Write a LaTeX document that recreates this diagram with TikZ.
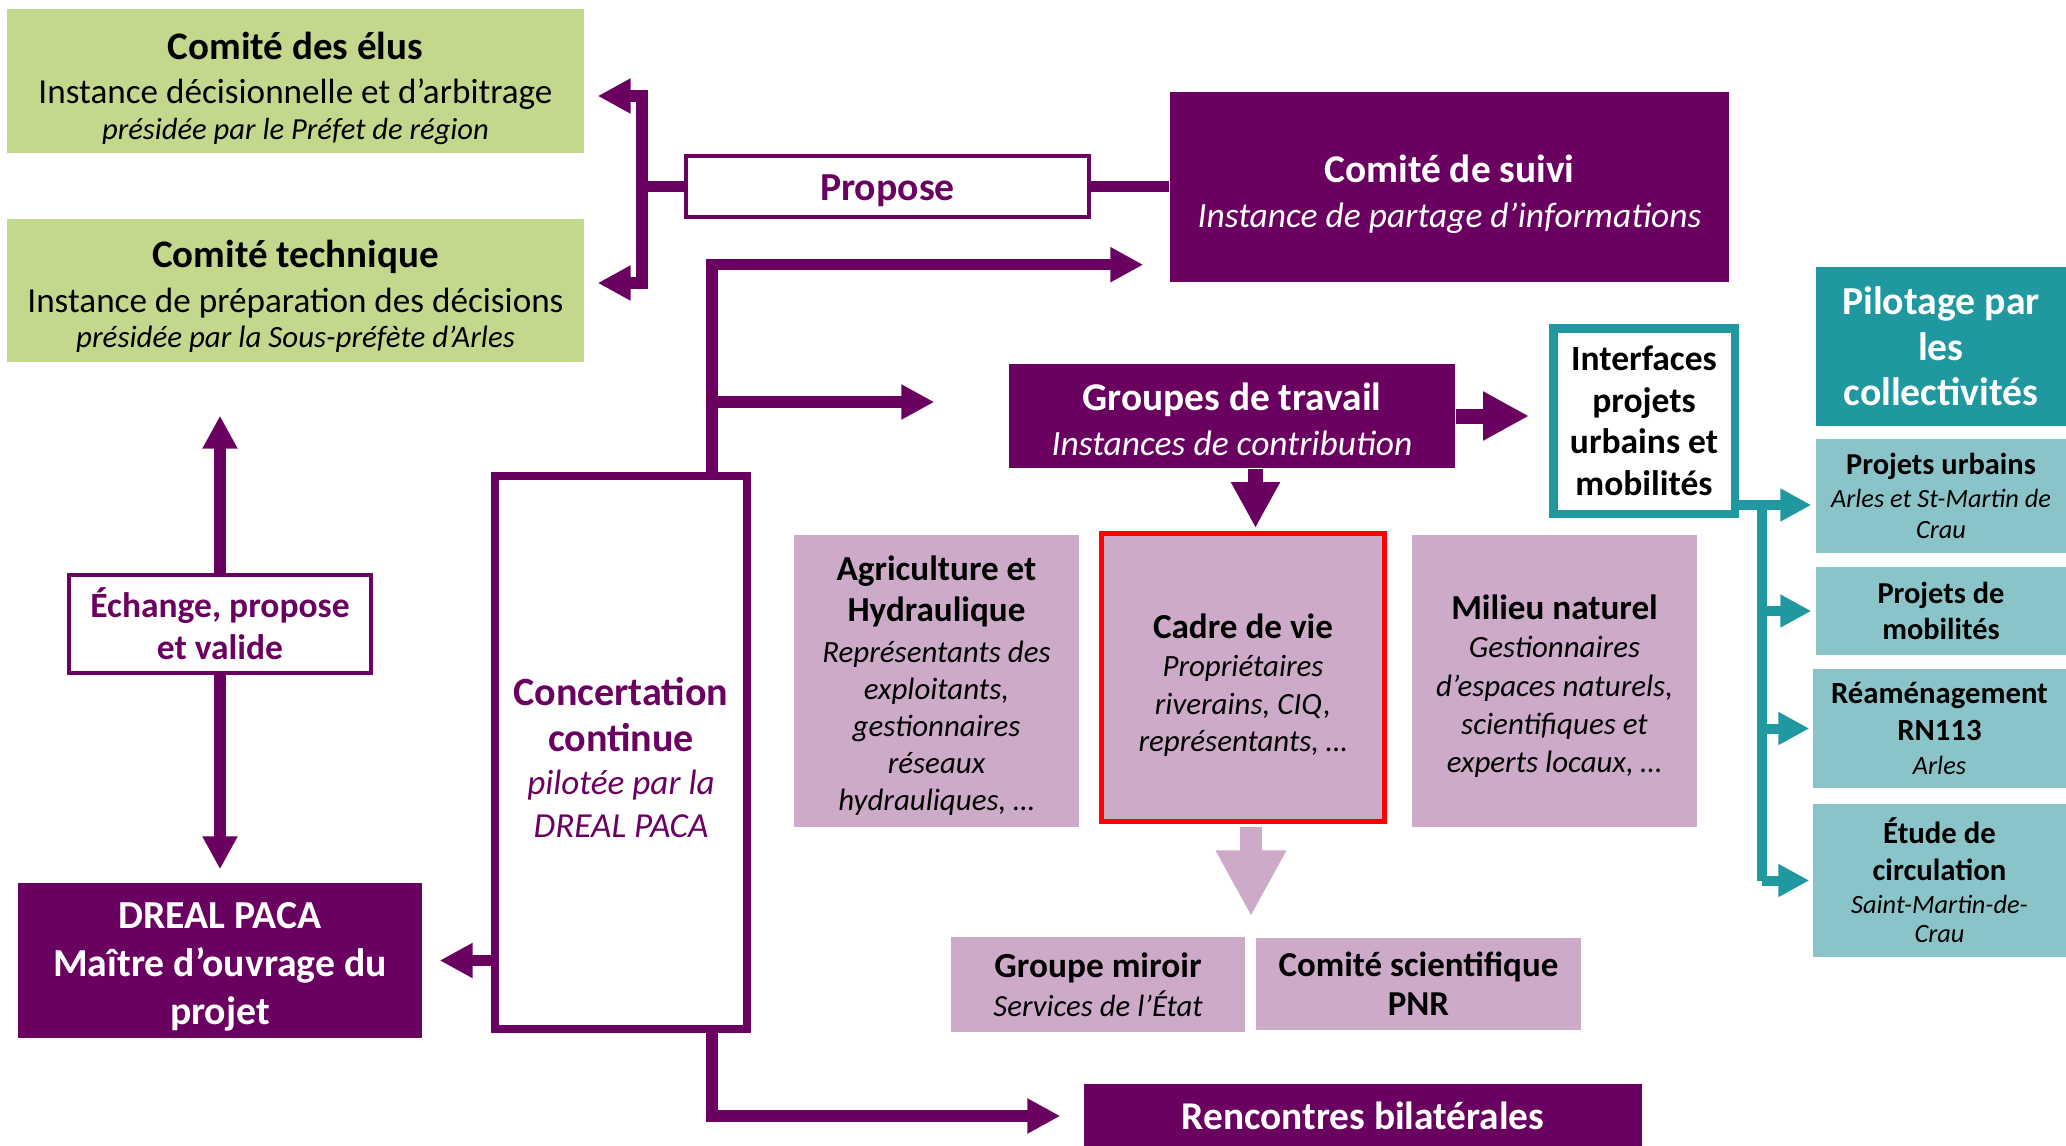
\documentclass[tikz,border=0pt]{standalone}
\usepackage{fontspec}
\setmainfont{Carlito}
\usepackage{xcolor}
\usepackage{tikz}
\usetikzlibrary{arrows.meta,positioning}
\definecolor{prune}{RGB}{106,0,96}
\definecolor{vert}{RGB}{195,216,140}
\definecolor{lilas}{RGB}{205,170,199}
\definecolor{sarcelle}{RGB}{31,152,160}
\definecolor{sarcclair}{RGB}{138,196,200}
\newcommand{\fs}[2]{\fontsize{#1}{#2}\selectfont}
\newcommand{\ital}[1]{{\fs{8.8}{10}\mdseries\itshape #1}}
\newcommand{\itsm}[1]{{\fs{7.5}{9}\mdseries\itshape #1}}
\newcommand{\up}[1]{\rule{0pt}{#1}}

\begin{document}
\begin{tikzpicture}[
	box/.style={inner sep=0pt, align=center},
	vbox/.style={box, fill=vert, minimum width=5.77cm, minimum height=1.44cm, font=\fs{10}{10}},
	pbox/.style={box, fill=prune, text=white, font=\bfseries},
	obox/.style={box, draw=prune, line width=0.04cm, fill=white, text=prune, font=\bfseries},
	lbox/.style={box, fill=lilas, font=\bfseries},
	tbox/.style={box, fill=sarcclair, minimum width=2.5cm, font=\bfseries},
	pline/.style={draw=prune, line width=0.115cm},
	parr/.style={pline, -{Triangle[length=0.33cm,width=0.33cm]}},
	barr/.style={pline, line width=0.15cm, -{Triangle[length=0.46cm,width=0.46cm]}},
	tline/.style={draw=sarcelle, line width=0.1cm},
	tarr/.style={tline, -{Triangle[length=0.31cm,width=0.31cm]}}
]
	\useasboundingbox (0,0) rectangle (20.66,-11.46);

	\node[vbox] (elus) at (2.955,-0.81) {{\fs{11.1}{10}\bfseries\up{12pt}Comité des élus}\\[2.5pt]Instance décisionnelle et d’arbitrage\\{\fs{8.7}{10}\itshape présidée par le Préfet de région}};
	\node[vbox, minimum height=1.43cm] (tech) at (2.955,-2.905) {{\fs{11.1}{10}\bfseries\up{11pt}Comité technique}\\[2.8pt]Instance de préparation des décisions\\{\fs{8.8}{10}\itshape présidée par la Sous-préfète d’Arles}};

	\node[obox, minimum width=4.03cm, minimum height=0.61cm, font=\fs{11.3}{12}\bfseries] (propose) at (8.875,-1.865) {\up{9.5pt}Propose};
	\node[pbox, minimum width=5.59cm, minimum height=1.9cm, font=\fs{11.2}{12.8}\bfseries] (suivi) at (14.495,-1.87) {\up{12pt}Comité de suivi\\{\fs{10.1}{12}\mdseries\itshape Instance de partage d’informations}};

	\node[box, draw=prune, line width=0.08cm, fill=white, text=prune, minimum width=2.52cm, minimum height=5.53cm, font=\fs{11.4}{13}\bfseries] (conc) at (6.21,-7.525) {\up{11pt}Concertation\\continue\\[-0.75pt]{\fs{10}{13}\mdseries\itshape pilotée par la}\\[-0.75pt]{\fs{10}{13}\mdseries\itshape DREAL PACA}};
	\node[obox, minimum width=3.02cm, minimum height=0.98cm, font=\fs{10.1}{12}\bfseries] (echange) at (2.2,-6.24) {Échange, propose\\et valide};
	\node[pbox, minimum width=4.04cm, minimum height=1.55cm, font=\fs{11.3}{13.7}\bfseries] (dreal) at (2.2,-9.605) {\up{11pt}DREAL PACA\\Maître d’ouvrage du\\projet};

	\node[pbox, minimum width=4.46cm, minimum height=1.04cm, font=\fs{11.2}{12.8}\bfseries] (groupes) at (12.32,-4.16) {\up{10pt}Groupes de travail\\{\fs{10.1}{12}\mdseries\itshape Instances de contribution}};
	\node[box, draw=sarcelle, line width=0.085cm, fill=white, minimum width=1.815cm, minimum height=1.855cm, font=\fs{10.1}{11.8}\bfseries] (interf) at (16.44,-4.21) {Interfaces\\projets\\urbains et\\mobilités};

	\node[box, fill=sarcelle, text=white, minimum width=2.5cm, minimum height=1.59cm, font=\fs{11.3}{13}\bfseries] (pilot) at (19.41,-3.465) {Pilotage par\\les\\collectivités};
	\node[tbox, minimum height=1.14cm, font=\fs{8.65}{9}\bfseries] (purb) at (19.41,-4.96) {Projets urbains\\[0.4pt]\itsm{Arles et St-Martin de}\\\itsm{Crau}};
	\node[tbox, minimum height=0.88cm, font=\fs{8.65}{10}\bfseries] (pmob) at (19.41,-6.11) {Projets de\\mobilités};
	\node[tbox, minimum width=2.53cm, minimum height=1.19cm, font=\fs{8.75}{9.5}\bfseries] (rn) at (19.395,-7.285) {Réaménagement\\[1pt]RN113\\\itsm{Arles}};
	\node[tbox, minimum width=2.53cm, minimum height=1.53cm, font=\fs{8.75}{9.4}\bfseries] (etude) at (19.395,-8.805) {Étude de\\[1pt]circulation\\\itsm{Saint-Martin-de-}\\[-1pt]\itsm{Crau}};

	\node[lbox, minimum width=2.85cm, minimum height=2.92cm, font=\fs{10}{10.5}\bfseries] (agri) at (9.365,-6.81) {\up{9.5pt}Agriculture et\\[1.2pt]Hydraulique\\[1.2pt]\ital{Représentants des}\\\ital{exploitants,}\\\ital{gestionnaires}\\\ital{réseaux}\\\ital{hydrauliques, …}};
	\node[lbox, draw=red, line width=0.05cm, minimum width=2.83cm, minimum height=2.88cm, font=\fs{10}{10.7}\bfseries] (cadre) at (12.43,-6.775) {\up{11.5pt}Cadre de vie\\\ital{Propriétaires}\\\ital{riverains, CIQ,}\\\ital{représentants, …}};
	\node[lbox, minimum width=2.85cm, minimum height=2.92cm, font=\fs{10}{10.9}\bfseries] (milieu) at (15.545,-6.81) {\up{10pt}Milieu naturel\\\ital{Gestionnaires}\\\ital{d’espaces naturels,}\\\ital{scientifiques et}\\\ital{experts locaux, …}};

	\node[lbox, minimum width=2.94cm, minimum height=0.95cm, font=\fs{10.05}{11.2}\bfseries] (miroir) at (10.98,-9.845) {Groupe miroir\\{\fs{8.75}{11}\mdseries\itshape Services de l’État}};
	\node[lbox, minimum width=3.25cm, minimum height=0.92cm, font=\fs{9.95}{11.2}\bfseries] (scient) at (14.185,-9.84) {Comité scientifique\\PNR};
	\node[pbox, minimum width=5.58cm, minimum height=0.64cm, font=\fs{11.2}{12}\bfseries] (renc) at (13.63,-11.16) {Rencontres bilatérales};

	\draw[pline] (propose.west) -- ++(-0.42,0) coordinate (brk);
	\draw[parr, shorten >=0.13cm] (brk) |- ([yshift=-0.15cm]elus.east);
	\draw[parr, shorten >=0.13cm] (brk) |- ([yshift=0.075cm]tech.east);
	\draw[pline] (propose.east) -- (propose.east -| suivi.west);

	\coordinate (trunk) at (7.12,0);
	\coordinate (toSuivi) at ([yshift=0.18cm]suivi.south west);
	\coordinate (toGrp) at ([yshift=0.14cm]groupes.west);
	\draw[parr, shorten >=0.26cm] (conc.north -| trunk) |- (toSuivi);
	\draw[parr, shorten >=0.74cm] (trunk |- toGrp) -- (toGrp);
	\draw[parr, shorten >=0.23cm] (conc.south -| trunk) |- (renc.west);
	\draw[parr, shorten >=0.17cm] (conc.west |- dreal.east) -- (dreal.east);

	\draw[parr, shorten >=0.53cm] (echange.north) -- (echange.north |- tech.south);
	\draw[parr, shorten >=0.13cm] (echange.south) -- (dreal.north);

	\draw[barr, shorten >=0.2cm] (groupes.east) -- (groupes.east -| interf.west);
	\draw[barr] ([xshift=0.235cm]groupes.south) -- ([xshift=0.235cm,yshift=0.03cm]groupes.south |- cadre.north);
	\draw[draw=lilas, line width=0.22cm, -{Triangle[length=0.66cm,width=0.66cm]}, shorten >=0.2cm] ([xshift=0.08cm,yshift=-0.03cm]cadre.south) -- ([xshift=0.08cm]cadre.south |- miroir.north);

	\coordinate (tTrunk) at (17.62,0);
	\draw[tarr, shorten >=0.04cm] ([yshift=0.13cm]interf.south east) coordinate (t0) -- (t0 -| purb.west);
	\draw[tline, line cap=square] (t0 -| tTrunk) -- (tTrunk |- etude.west);
	\draw[tarr, shorten >=0.04cm] (tTrunk |- pmob.west) -- (pmob.west);
	\draw[tarr, shorten >=0.03cm] (tTrunk |- rn.west) -- (rn.west);
	\draw[tarr, shorten >=0.03cm] (tTrunk |- etude.west) -- (etude.west);
\end{tikzpicture}
\end{document}
